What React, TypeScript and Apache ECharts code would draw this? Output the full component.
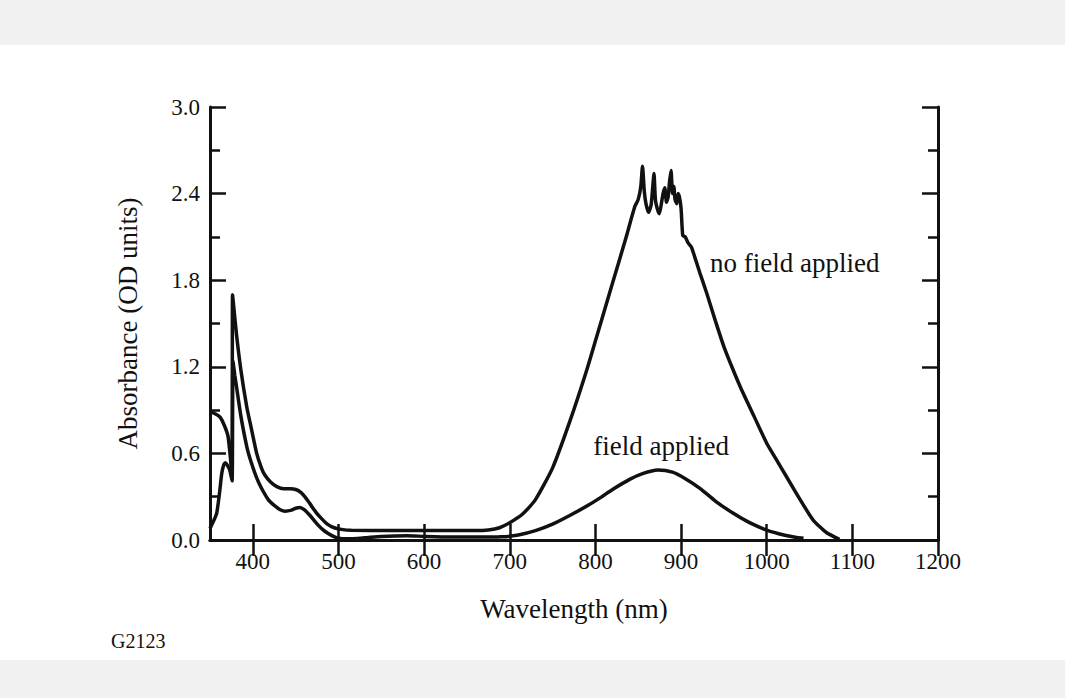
import React, { useEffect, useRef } from "react";
import * as echarts from "echarts";

const xTickValues = [400, 500, 600, 700, 800, 900, 1000, 1100, 1200];
const yTickLabels = ["0.0", "0.6", "1.2", "1.8", "2.4", "3.0"];

const xTitle = "Wavelength (nm)";
const yTitle = "Absorbance (OD units)";
const noFieldLabel = "no field applied";
const fieldLabel = "field applied";
const figureId = "G2123";

// [wavelength nm, absorbance OD]
const noFieldApplied: [number, number][] = [
  [350, 0.89], [356, 0.875], [362, 0.85], [367, 0.79], [371, 0.72], [374, 0.56],
  [375.8, 0.42], [376.3, 1.7], [378, 1.6], [381, 1.42], [386, 1.18], [393, 0.92],
  [398, 0.78], [404.5, 0.6], [410, 0.5], [414, 0.45], [421, 0.4], [428, 0.37],
  [436, 0.355], [444, 0.355], [450, 0.35], [456, 0.33], [462, 0.29], [468, 0.24],
  [474, 0.19], [480, 0.15], [487, 0.11], [495, 0.085], [505, 0.072], [515, 0.067],
  [560, 0.066], [620, 0.066], [660, 0.066], [675, 0.07], [688, 0.085], [700, 0.12],
  [715, 0.18], [730, 0.28], [750, 0.5], [770, 0.82], [790, 1.18], [805, 1.48],
  [820, 1.78], [835, 2.08], [846, 2.31], [850, 2.36], [853, 2.45], [855, 2.59],
  [857, 2.42], [859, 2.33], [862, 2.27], [865, 2.32], [867, 2.45], [868.4, 2.54],
  [870, 2.36], [872, 2.3], [874.6, 2.26], [877, 2.33], [879, 2.4], [881, 2.44],
  [883, 2.34], [885, 2.38], [886.5, 2.48], [888.3, 2.56], [890, 2.4], [891.5, 2.45],
  [893, 2.36], [895, 2.33], [896.5, 2.4], [898, 2.38], [900, 2.3], [902, 2.11],
  [905, 2.1], [908, 2.06], [912, 2.03], [916, 1.96], [922, 1.85], [930, 1.71],
  [940, 1.52], [950, 1.34], [960, 1.19], [970, 1.05], [985, 0.86], [1000, 0.67],
  [1012, 0.55], [1023, 0.44], [1038, 0.29], [1054, 0.14], [1070, 0.05], [1085, 0.005],
];

const fieldApplied: [number, number][] = [
  [350, 0.08], [354, 0.13], [357.8, 0.185], [361, 0.32], [363.7, 0.46], [366, 0.52],
  [368, 0.535], [370, 0.52], [373, 0.485], [375.8, 0.41], [376.8, 1.24], [379, 1.14],
  [381, 1.06], [386, 0.86], [393, 0.646], [398, 0.54], [404.5, 0.43], [410, 0.36],
  [418, 0.28], [425, 0.24], [432, 0.21], [438, 0.2], [444, 0.205], [450, 0.22],
  [455, 0.225], [460, 0.21], [466, 0.175], [471, 0.14], [476, 0.105], [482, 0.07],
  [488, 0.045], [494, 0.025], [500, 0.012], [510, 0.008], [530, 0.015], [550, 0.025],
  [580, 0.03], [600, 0.025], [630, 0.02], [660, 0.02], [690, 0.022], [710, 0.035],
  [730, 0.065], [750, 0.11], [770, 0.17], [790, 0.235], [805, 0.29], [820, 0.35],
  [840, 0.42], [855, 0.46], [873, 0.485], [890, 0.47], [905, 0.425], [922, 0.358],
  [940, 0.27], [961, 0.185], [980, 0.12], [1000, 0.069], [1020, 0.035], [1035, 0.018],
  [1043, 0.012],
];

const FONT = "'Liberation Serif', 'Times New Roman', serif";
const INK = "#111";

export default function App() {
  const ref = useRef<HTMLDivElement>(null);

  useEffect(() => {
    document.body.style.margin = "0";
    const chart = echarts.init(ref.current!, null, { renderer: "svg" });

    const tickStyle = { show: true, inside: true, length: 16, lineStyle: { color: INK, width: 2.5 } };
    const lineStyle = { show: true, lineStyle: { color: INK, width: 3 } };

    chart.setOption({
      animation: false,
      backgroundColor: "#fff",
      grid: { left: 210, right: 127, top: 107, bottom: 158, containLabel: false },
      xAxis: [
        {
          type: "value",
          min: 350,
          max: 1200,
          position: "bottom",
          axisLine: lineStyle,
          axisTick: { ...tickStyle, customValues: xTickValues },
          axisLabel: {
            customValues: xTickValues,
            color: INK,
            fontFamily: FONT,
            fontSize: 23,
            margin: 10,
            formatter: (v: number) => String(v),
          },
          splitLine: { show: false },
          name: xTitle,
          nameLocation: "middle",
          nameGap: 55,
          nameTextStyle: { color: INK, fontFamily: FONT, fontSize: 27 },
        },
        {
          type: "value",
          min: 350,
          max: 1200,
          position: "top",
          axisLine: lineStyle,
          axisTick: { ...tickStyle, customValues: xTickValues },
          axisLabel: { show: false },
          splitLine: { show: false },
        },
      ],
      yAxis: [
        {
          type: "value",
          min: 0,
          max: 3,
          interval: 0.6,
          position: "left",
          axisLine: lineStyle,
          axisTick: tickStyle,
          minorTick: { show: true, splitNumber: 2, length: 10, lineStyle: { color: INK, width: 2.5 } },
          axisLabel: {
            color: INK,
            fontFamily: FONT,
            fontSize: 23,
            margin: 10,
            formatter: (v: number) => yTickLabels[Math.round(v / 0.6)] ?? v.toFixed(1),
          },
          splitLine: { show: false },
          name: yTitle,
          nameLocation: "middle",
          nameGap: 69,
          nameTextStyle: { color: INK, fontFamily: FONT, fontSize: 27 },
        },
        {
          type: "value",
          min: 0,
          max: 3,
          interval: 0.6,
          position: "right",
          axisLine: lineStyle,
          axisTick: tickStyle,
          minorTick: { show: true, splitNumber: 2, length: 10, lineStyle: { color: INK, width: 2.5 } },
          axisLabel: { show: false },
          splitLine: { show: false },
        },
      ],
      series: [
        {
          name: noFieldLabel,
          type: "line",
          data: noFieldApplied,
          xAxisIndex: 0,
          yAxisIndex: 0,
          showSymbol: false,
          smooth: 0.2,
          lineStyle: { color: INK, width: 3.5 },
          z: 3,
        },
        {
          name: fieldLabel,
          type: "line",
          data: fieldApplied,
          xAxisIndex: 0,
          yAxisIndex: 0,
          showSymbol: false,
          smooth: 0.2,
          lineStyle: { color: INK, width: 3.5 },
          z: 3,
        },
      ],
      graphic: [
        { type: "rect", z: -10, shape: { x: 0, y: 0, width: 1065, height: 45 }, style: { fill: "#f1f1f1" } },
        { type: "rect", z: -10, shape: { x: 0, y: 660, width: 1065, height: 38 }, style: { fill: "#f1f1f1" } },
        {
          type: "text",
          x: 710,
          y: 263,
          style: { text: noFieldLabel, fill: INK, font: `27px ${FONT}`, textAlign: "left", textVerticalAlign: "middle" },
        },
        {
          type: "text",
          x: 729,
          y: 446,
          style: { text: fieldLabel, fill: INK, font: `27px ${FONT}`, textAlign: "right", textVerticalAlign: "middle" },
        },
        {
          type: "text",
          x: 111,
          y: 641,
          style: { text: figureId, fill: INK, font: `20px ${FONT}`, textAlign: "left", textVerticalAlign: "middle" },
        },
      ],
    });

    return () => chart.dispose();
  }, []);

  return <div ref={ref} style={{ position: "absolute", left: 0, top: 0, width: 1065, height: 698 }} />;
}
